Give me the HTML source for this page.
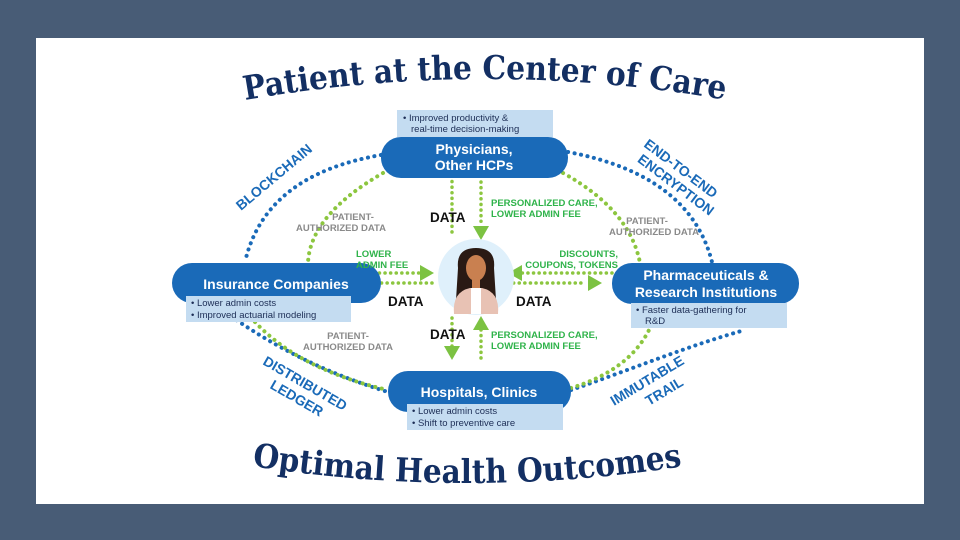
<!DOCTYPE html>
<html><head><meta charset="utf-8"><style>
html,body{margin:0;padding:0;background:#485c76;}
svg{display:block}
.w{font-family:"Liberation Sans",sans-serif;font-weight:bold;fill:#fff;font-size:14px}
.n{font-family:"Liberation Sans",sans-serif;fill:#1c2d55;font-size:9.5px}
.g{font-family:"Liberation Sans",sans-serif;font-weight:bold;fill:#2fb34a;font-size:9.5px}
.gr{font-family:"Liberation Sans",sans-serif;font-weight:bold;fill:#8a8a8a;font-size:9.5px}
.d{font-family:"Liberation Sans",sans-serif;font-weight:bold;fill:#111;font-size:13.5px}
.b{font-family:"Liberation Sans",sans-serif;font-weight:bold;fill:#1a6ab8;font-size:14px}
</style></head><body>
<svg width="960" height="540" viewBox="0 0 960 540" xmlns="http://www.w3.org/2000/svg">
<rect x="0" y="0" width="960" height="540" fill="#485c76"/>
<rect x="36" y="38" width="888" height="466" fill="#fff"/>
<defs>
<path id="t1" d="M 245 100 Q 486 58 727 100"/>
<path id="t2" d="M 252 466 Q 467 500 684 466"/>
</defs>
<text font-family="DejaVu Serif,serif" font-weight="bold" font-size="33" fill="#132f63"><textPath href="#t1" textLength="482" lengthAdjust="spacingAndGlyphs">Patient at the Center of Care</textPath></text>
<text font-family="DejaVu Serif,serif" font-weight="bold" font-size="33" fill="#132f63"><textPath href="#t2" textLength="432" lengthAdjust="spacingAndGlyphs">Optimal Health Outcomes</textPath></text>

<g fill="none" stroke="#1a6ab8" stroke-width="4" stroke-linecap="round" stroke-dasharray="0.1 6.5">
<path d="M 381 155 Q 265 175 245 262"/>
<path d="M 568 152 Q 690 175 712 262"/>
<path d="M 215 305 C 250 330, 300 365, 388 392"/>
<path d="M 571 390 C 630 370, 690 345, 745 330"/>
</g>
<g fill="none" stroke="#8cc63f" stroke-width="4" stroke-linecap="round" stroke-dasharray="0.1 6.5">
<path d="M 383 173 Q 310 215 308 263"/>
<path d="M 563 173 Q 630 210 640 263"/>
<path d="M 255 322 Q 300 370 388 390"/>
<path d="M 571 388 Q 630 370 650 328"/>
</g>
<g fill="none" stroke="#8cc63f" stroke-width="3.5" stroke-linecap="round" stroke-dasharray="0.1 5.5">
<path d="M 452 232 L 452 172"/>
<path d="M 481 182 L 481 226"/>
<path d="M 452 318 L 452 348"/>
<path d="M 481 358 L 481 328"/>
<path d="M 357 273 L 420 273"/>
<path d="M 432 283 L 368 283"/>
<path d="M 612 273 L 522 273"/>
<path d="M 508 283 L 586 283"/>
</g>
<g fill="#7cc242">
<path d="M 444 170 L 460 170 L 452 156 z"/>
<path d="M 473 226 L 489 226 L 481 240 z"/>
<path d="M 444 346 L 460 346 L 452 360 z"/>
<path d="M 473 330 L 489 330 L 481 316 z"/>
<path d="M 420 265 L 420 281 L 434 273 z"/>
<path d="M 366 275 L 366 291 L 352 283 z"/>
<path d="M 522 265 L 522 281 L 508 273 z"/>
<path d="M 588 275 L 588 291 L 602 283 z"/>
</g>

<circle cx="476" cy="277" r="38" fill="#dff0fb"/>
<path d="M 458 268 Q 456 248 476 248 Q 496 248 494 268 L 496 300 L 456 300 z" fill="#2a1a14"/>
<ellipse cx="476" cy="268" rx="10" ry="13" fill="#c98050"/>
<rect x="472" y="278" width="8" height="10" fill="#c98050"/>
<path d="M 454 314 Q 452 292 470 288 L 482 288 Q 500 292 498 314 z" fill="#e8c2b4"/>
<rect x="471" y="288" width="10" height="26" fill="#fff"/>

<rect x="397" y="110" width="156" height="27" fill="#c4dcf1"/>
<text class="n" x="403" y="121">•  Improved productivity &amp;</text>
<text class="n" x="411" y="132">real-time decision-making</text>

<rect x="381" y="137" width="187" height="41" rx="20" fill="#1a6ab8"/>
<text class="w" x="474" y="154" text-anchor="middle">Physicians,</text>
<text class="w" x="474" y="170" text-anchor="middle">Other HCPs</text>
<rect x="172" y="263" width="209" height="40" rx="20" fill="#1a6ab8"/>
<text class="w" x="276" y="289" text-anchor="middle">Insurance Companies</text>
<rect x="186" y="296" width="165" height="26" fill="#c4dcf1"/>
<text class="n" x="191" y="306">•  Lower admin costs</text>
<text class="n" x="191" y="318">•  Improved actuarial modeling</text>
<rect x="612" y="263" width="187" height="41" rx="20" fill="#1a6ab8"/>
<text class="w" x="706" y="280" text-anchor="middle">Pharmaceuticals &amp;</text>
<text class="w" x="706" y="297" text-anchor="middle">Research Institutions</text>
<rect x="631" y="303" width="156" height="25" fill="#c4dcf1"/>
<text class="n" x="636" y="313">•  Faster data-gathering for</text>
<text class="n" x="645" y="324">R&amp;D</text>
<rect x="388" y="371" width="183" height="41" rx="20" fill="#1a6ab8"/>
<text class="w" x="479" y="397" text-anchor="middle">Hospitals, Clinics</text>
<rect x="407" y="404" width="156" height="26" fill="#c4dcf1"/>
<text class="n" x="412" y="414">•  Lower admin costs</text>
<text class="n" x="412" y="426">•  Shift to preventive care</text>

<text class="d" x="430" y="222">DATA</text>
<text class="d" x="388" y="306">DATA</text>
<text class="d" x="516" y="306">DATA</text>
<text class="d" x="430" y="339">DATA</text>
<text class="g" x="491" y="206">PERSONALIZED CARE,</text>
<text class="g" x="491" y="217">LOWER ADMIN FEE</text>
<text class="g" x="491" y="338">PERSONALIZED CARE,</text>
<text class="g" x="491" y="349">LOWER ADMIN FEE</text>
<text class="g" x="356" y="257">LOWER</text>
<text class="g" x="356" y="268">ADMIN FEE</text>
<text class="g" x="618" y="257" text-anchor="end">DISCOUNTS,</text>
<text class="g" x="618" y="268" text-anchor="end">COUPONS, TOKENS</text>
<text class="gr" x="353" y="220" text-anchor="middle">PATIENT-</text>
<text class="gr" x="341" y="231" text-anchor="middle">AUTHORIZED DATA</text>
<text class="gr" x="647" y="224" text-anchor="middle">PATIENT-</text>
<text class="gr" x="654" y="235" text-anchor="middle">AUTHORIZED DATA</text>
<text class="gr" x="348" y="339" text-anchor="middle">PATIENT-</text>
<text class="gr" x="348" y="350" text-anchor="middle">AUTHORIZED DATA</text>

<text class="b" transform="translate(241,211) rotate(-40)">BLOCKCHAIN</text>
<g transform="translate(643,146) rotate(37)">
<text class="b" x="0" y="0">END-TO-END</text>
<text class="b" x="4" y="16">ENCRYPTION</text>
</g>
<g transform="translate(262,364) rotate(30)">
<text class="b" x="0" y="0">DISTRIBUTED</text>
<text class="b" x="18" y="17">LEDGER</text>
</g>
<g transform="translate(614,406) rotate(-31)">
<text class="b" x="0" y="0">IMMUTABLE</text>
<text class="b" x="30" y="18">TRAIL</text>
</g>
</svg>
</body></html>
